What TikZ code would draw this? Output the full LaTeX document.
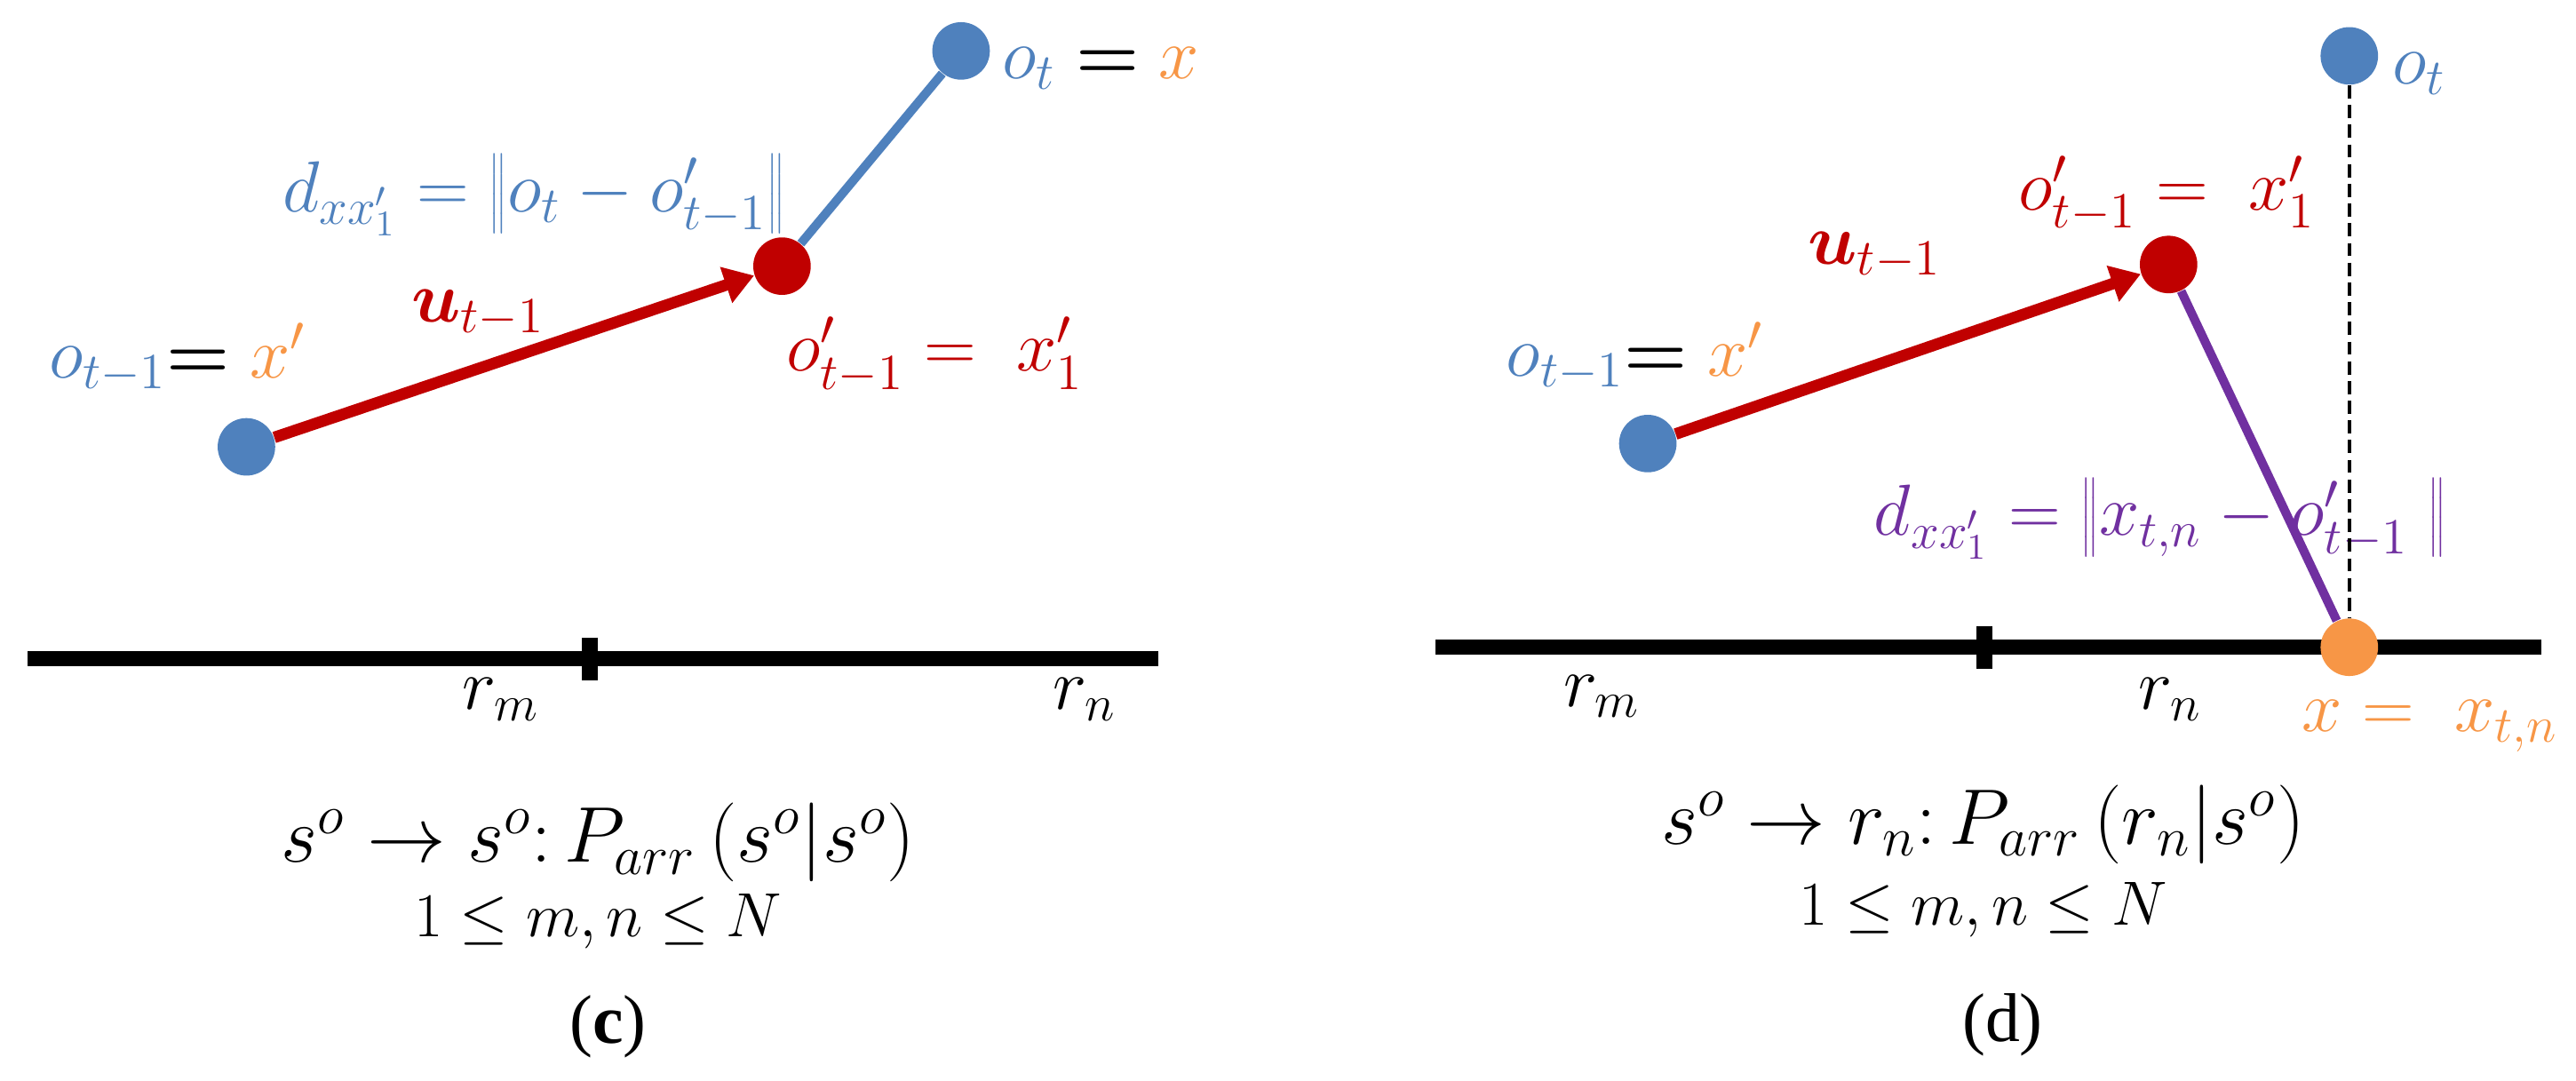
\RequirePackage{fix-cm}
\documentclass[tikz,border=0pt]{standalone}
\usepackage{fontspec}
\usepackage{bm}
\usetikzlibrary{arrows.meta}
\newfontfamily\capfont{Liberation Serif}
\definecolor{oblue}{RGB}{79,129,189}
\definecolor{ored}{RGB}{192,0,0}
\definecolor{oorange}{RGB}{247,150,70}
\definecolor{opurple}{RGB}{112,48,160}
\pgfdeclarelayer{lab}
\pgfdeclarelayer{lin}
\pgfsetlayers{lab,lin,main}
\begin{document}
\begin{tikzpicture}[x=0.5pt,y=-0.5pt,
  dotnode/.style={circle,inner sep=0pt,minimum size=17.5pt},
  bdot/.style={dotnode,fill=oblue},
  rdot/.style={dotnode,fill=ored},
  odot/.style={dotnode,fill=oorange},
  lbl/.style={inner sep=0pt,anchor=base,font=\fontsize{22}{26}\selectfont},
  capa/.style={inner sep=0pt,anchor=base,font=\fontsize{24}{28}\selectfont},
  capb/.style={inner sep=0pt,anchor=base,font=\fontsize{19}{23}\selectfont},
  panel/.style={inner sep=0pt,anchor=base,font=\capfont\fontsize{21}{25}\selectfont},
  axisline/.style={line width=4.5pt},
  tickline/.style={line width=5pt},
  uarrow/.style={ored,line width=3.5pt,-{Triangle[length=9pt,width=11pt]}},
  bline/.style={oblue,line width=2.7pt},
  pline/.style={opurple,line width=2.7pt},
  dline/.style={black,line width=1pt,dash pattern=on 4pt off 2pt},
]
\useasboundingbox (0,0) rectangle (1568,658);

% ---------------- panel (c) ----------------
\node[bdot] (c1) at (150,272) {};
\node[rdot] (c2) at (476,162) {};
\node[bdot] (c3) at (585,31) {};
\coordinate (cA) at (17,401);
\coordinate (cB) at (705,401);
\coordinate (cT1) at (359,388);
\coordinate (cT2) at (359,414);

\begin{pgfonlayer}{lin}
\draw[axisline] (cA) -- (cB);
\draw[tickline] (cT1) -- (cT2);
\draw[uarrow] (c1) -- (c2);
\draw[bline] (c2) -- (c3);
\end{pgfonlayer}

\begin{pgfonlayer}{lab}
\node[lbl] (cl1) at (670,48) {${\color{oblue}o_t}\mathrel{\bm{=}}{\color{oorange}x}$};
\node[lbl,oblue] (cl2) at (325,129) {$d_{xx'_1} = \left\|o_t - o'_{t-1}\right\|$};
\node[lbl,ored] (cl3) at (291,196) {$\bm{u}_{t-1}$};
\node[lbl,ored] (cl4) at (569,226) {$o'_{t-1} = \;x'_1$};
\node[lbl] (cl5) at (108,230) {${\color{oblue}o_{t-1}}{\bm{=}}\;{\color{oorange}x'}$};
\node[lbl] (cl6) at (305,432) {$r_m$};
\node[lbl] (cl7) at (660,432) {$r_n$};
\node[capa] (cl8) at (364,525) {$s^o \rightarrow s^o{:}\,P_{arr}\,(s^o|s^o)$};
\node[capb] (cl9) at (364,570) {$1 \leq m,n \leq N$};
\node[panel] (cl10) at (370,635) {(\textbf{c})};
\end{pgfonlayer}

% ---------------- panel (d) ----------------
\node[bdot] (d1) at (1003,270) {};
\node[rdot] (d2) at (1320,161) {};
\node[bdot] (d3) at (1430,34) {};
\node[odot] (d4) at (1430,394) {};
\coordinate (dA) at (874,394);
\coordinate (dB) at (1547,394);
\coordinate (dT1) at (1208,381);
\coordinate (dT2) at (1208,407);

\begin{pgfonlayer}{lin}
\draw[axisline] (dA) -- (dB);
\draw[tickline] (dT1) -- (dT2);
\draw[dline] (d3) -- (d4);
\draw[uarrow] (d1) -- (d2);
\draw[pline] (d2) -- (d4);
\end{pgfonlayer}

\begin{pgfonlayer}{lab}
\node[lbl,oblue,anchor=base west] (dl1) at (1456,51) {$o_t$};
\node[lbl,ored] (dl2) at (1319,128) {$o'_{t-1} = \;x'_1$};
\node[lbl,ored] (dl3) at (1141,161) {$\bm{u}_{t-1}$};
\node[lbl] (dl4) at (995,229) {${\color{oblue}o_{t-1}}{\bm{=}}\;{\color{oorange}x'}$};
\node[lbl,opurple] (dl5) at (1315,326) {$d_{xx'_1} = \left\|x_{t,n} - o'_{t-1}\;\right\|$};
\node[lbl] (dl6) at (975,430) {$r_m$};
\node[lbl] (dl7) at (1321,432) {$r_n$};
\node[lbl,oorange] (dl8) at (1479,445) {$x = \;x_{t,n}$};
\node[capa] (dl9) at (1207,514) {$s^o \rightarrow r_n{:}\,P_{arr}\,(r_n|s^o)$};
\node[capb] (dl10) at (1207,563) {$1 \leq m,n \leq N$};
\node[panel] (dl11) at (1219,634) {(d)};
\end{pgfonlayer}
\end{tikzpicture}
\end{document}
